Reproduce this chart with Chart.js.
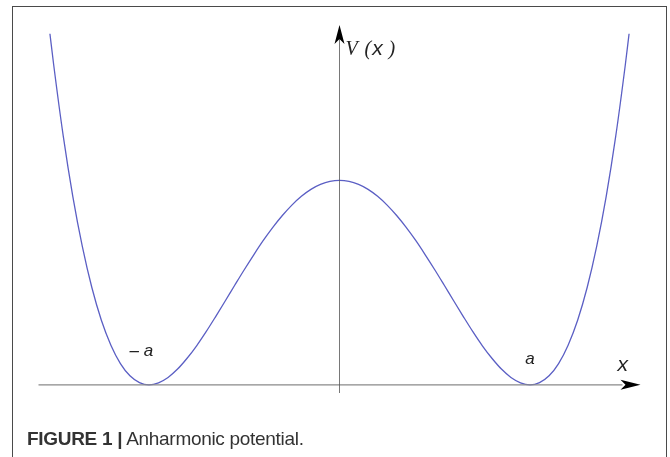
<!DOCTYPE html>
<html>
<head>
<meta charset="utf-8">
<script src="https://cdn.jsdelivr.net/npm/chart.js@4.4.1/dist/chart.umd.min.js"></script>
<style>
  body { margin: 0; background: #fff; }
  #wrap { position: relative; width: 670px; height: 457px; overflow: hidden; }
  #frame { position: absolute; left: 12px; top: 6px; width: 653px; height: 470px; border: 1.5px solid #4a4a4a; }
  #chart { position: absolute; left: 0; top: 0; }
  #caption { position: absolute; left: 27px; top: 428px; font-family: "Liberation Sans", Arial, sans-serif; font-size: 19px; color: #333; letter-spacing: -0.3px; white-space: nowrap; }
  #caption b { font-weight: bold; }
</style>
</head>
<body>
<div id="wrap">
  <div id="frame"></div>
  <canvas id="chart" width="670" height="457"></canvas>
  <div id="caption"><b>FIGURE 1</b> <b>|</b> Anharmonic potential.</div>
</div>
<script>
// titik-titik kurva (x dalam satuan a)
const xs = [-1.52, -1.5, -1.45, -1.4, -1.35, -1.3, -1.25, -1.2, -1.15, -1.1, -1.05, -1.0,
            -0.95, -0.9, -0.85, -0.8, -0.75, -0.7, -0.65, -0.6, -0.55, -0.5, -0.45, -0.4,
            -0.35, -0.3, -0.25, -0.2, -0.15, -0.1, -0.05, 0,
            0.05, 0.1, 0.15, 0.2, 0.25, 0.3, 0.35, 0.4, 0.45, 0.5, 0.55, 0.6,
            0.65, 0.7, 0.75, 0.8, 0.85, 0.9, 0.95, 1.0, 1.05, 1.1, 1.15, 1.2,
            1.25, 1.3, 1.35, 1.4, 1.45, 1.5, 1.52];
const vs = [1.717, 1.563, 1.216, 0.922, 0.677, 0.476, 0.316, 0.194, 0.104, 0.044, 0.011, 0,
            0.010, 0.036, 0.077, 0.130, 0.191, 0.260, 0.334, 0.410, 0.487, 0.563, 0.636, 0.706,
            0.770, 0.828, 0.879, 0.922, 0.956, 0.980, 0.995, 1,
            0.995, 0.980, 0.956, 0.922, 0.879, 0.828, 0.770, 0.706, 0.636, 0.563, 0.487, 0.410,
            0.334, 0.260, 0.191, 0.130, 0.077, 0.036, 0.010, 0, 0.011, 0.044, 0.104, 0.194,
            0.316, 0.476, 0.677, 0.922, 1.216, 1.563, 1.717];

const xRange = [-1.58, 1.58];
const yRange = [-0.04, 1.76];

// label pada titik minimum
const labels = [
  { text: 'a', x: 1.0, y: 0.125, font: 'italic 17px "Liberation Sans", sans-serif' },
  { text: '\u2013 a', x: -1.04, y: 0.165, font: 'italic 17px "Liberation Sans", sans-serif' },
];

const axesPlugin = {
  id: 'axes',
  afterDatasetsDraw(chart) {
    const ctx = chart.ctx;
    const sx = chart.scales.x, sy = chart.scales.y;
    const x0 = sx.getPixelForValue(0), y0 = sy.getPixelForValue(0);
    const left = sx.getPixelForValue(xRange[0]), right = sx.getPixelForValue(xRange[1]);
    const top = sy.getPixelForValue(yRange[1]), bottom = sy.getPixelForValue(yRange[0]);
    ctx.save();
    // sumbu x
    ctx.strokeStyle = '#8a8a8a';
    ctx.lineWidth = 1.2;
    ctx.beginPath();
    ctx.moveTo(left, y0);
    ctx.lineTo(right - 18, y0);
    ctx.stroke();
    // sumbu y
    ctx.strokeStyle = '#555';
    ctx.lineWidth = 0.8;
    ctx.beginPath();
    ctx.moveTo(x0, bottom);
    ctx.lineTo(x0, top + 14);
    ctx.stroke();
    // panah
    ctx.fillStyle = '#000';
    ctx.beginPath();
    ctx.moveTo(right, y0);
    ctx.lineTo(right - 20, y0 - 5);
    ctx.lineTo(right - 15, y0);
    ctx.lineTo(right - 20, y0 + 5);
    ctx.closePath();
    ctx.fill();
    ctx.beginPath();
    ctx.moveTo(x0, top);
    ctx.lineTo(x0 - 5, top + 19);
    ctx.lineTo(x0, top + 14);
    ctx.lineTo(x0 + 5, top + 19);
    ctx.closePath();
    ctx.fill();
    // teks
    ctx.fillStyle = '#222';
    ctx.textBaseline = 'middle';
    ctx.textAlign = 'center';
    labels.forEach(l => {
      ctx.font = l.font;
      ctx.fillText(l.text, sx.getPixelForValue(l.x), sy.getPixelForValue(l.y));
    });
    ctx.textAlign = 'left';
    ctx.font = 'italic 20px "Liberation Mono", monospace';
    ctx.fillText('x', sx.getPixelForValue(1.455), sy.getPixelForValue(0.095));
    // V ( x )
    const vy = sy.getPixelForValue(1.64);
    ctx.font = 'italic 20px "Liberation Serif", serif';
    ctx.fillText('V', x0 + 6, vy);
    ctx.fillText('(', x0 + 25, vy);
    ctx.fillText(')', x0 + 49, vy);
    ctx.font = 'italic 20px "Liberation Mono", monospace';
    ctx.fillText('x', x0 + 32, vy);
    ctx.restore();
  }
};

new Chart(document.getElementById('chart').getContext('2d'), {
  type: 'line',
  data: {
    datasets: [{
      data: xs.map((x, i) => ({ x: x, y: vs[i] })),
      borderColor: '#5b5fc4',
      borderWidth: 1.3,
      pointRadius: 0,
      cubicInterpolationMode: 'monotone',
      fill: false
    }]
  },
  options: {
    responsive: false,
    animation: false,
    layout: { padding: { left: 38.5, right: 29.5, top: 25, bottom: 64 } },
    scales: {
      x: { type: 'linear', min: xRange[0], max: xRange[1], display: false },
      y: { type: 'linear', min: yRange[0], max: yRange[1], display: false }
    },
    plugins: { legend: { display: false }, tooltip: { enabled: false } }
  },
  plugins: [axesPlugin]
});
</script>
</body>
</html>
